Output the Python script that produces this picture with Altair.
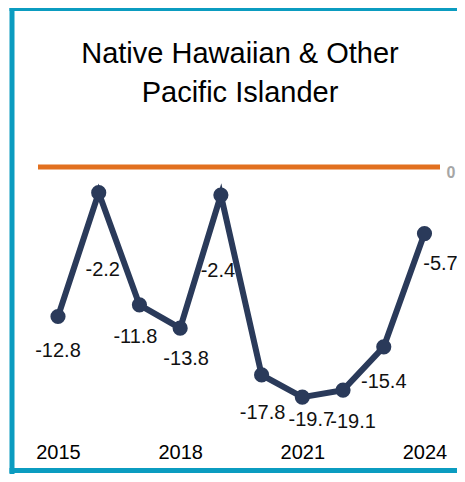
import altair as alt
import pandas as pd

# ---- data ----
years = [2015, 2016, 2017, 2018, 2019, 2020, 2021, 2022, 2023, 2024]
values = [-12.8, -2.2, -11.8, -13.8, -2.4, -17.8, -19.7, -19.1, -15.4, -5.7]
labels = ["-12.8", "-2.2", "-11.8", "-13.8", "-2.4", "-17.8", "-19.7", "-19.1", "-15.4", "-5.7"]
tick_years = [2015, 2018, 2021, 2024]
title_lines = ["Native Hawaiian & Other", "Pacific Islander"]

df = pd.DataFrame({"year": years, "value": values, "label": labels})

FONT = "Liberation Sans"
NAVY = "#2A3A5A"
ORANGE = "#E2701F"
TEAL = "#0B9CC0"

x_scale = alt.Scale(domain=[2014.509, 2024.381], nice=False, zero=False)
y_scale = alt.Scale(domain=[-22.517, 3.168], nice=False, zero=False)

x_axis = alt.Axis(values=tick_years, format="d", title=None, domain=False,
                  ticks=False, grid=False, labelFontSize=20, labelColor="#000",
                  labelFont=FONT, labelPadding=12)
y_axis = alt.Axis(orient="right", values=[0], title=None, domain=False,
                  ticks=False, grid=False, labelFontSize=16, labelFontWeight="bold",
                  labelColor="#A6A6A6", labelFont=FONT, labelPadding=6, labelOffset=5)

X = alt.X("year:Q", scale=x_scale, axis=x_axis)
Y = alt.Y("value:Q", scale=y_scale, axis=y_axis)

base = alt.Chart(df)
one = alt.Data(values=[{}])

# frame (left, top, bottom edges; the right edge lies beyond the picture)
frame_left = alt.Chart(one).mark_rule(color=TEAL, strokeWidth=5).encode(
    x=alt.value(-26), y=alt.value(-124), y2=alt.value(344))
frame_top = alt.Chart(one).mark_rule(color=TEAL, strokeWidth=5).encode(
    x=alt.value(-28.5), x2=alt.value(420), y=alt.value(-121.5))
frame_bottom = alt.Chart(one).mark_rule(color=TEAL, strokeWidth=5).encode(
    x=alt.value(-28.5), x2=alt.value(420), y=alt.value(340.5))

title_layers = [
    alt.Chart(one).mark_text(font=FONT, fontSize=29, color="#000", align="center",
                             baseline="alphabetic").encode(
        x=alt.value(202), y=alt.value(yv), text=alt.value(t))
    for t, yv in zip(title_lines, [-67, -28])
]

zero_rule = alt.Chart(one).mark_rule(color=ORANGE, strokeWidth=5).encode(
    y=alt.datum(0, type="quantitative", scale=y_scale, axis=y_axis),
)

line = base.mark_line(color=NAVY, strokeWidth=6).encode(x=X, y=Y)
points = base.mark_circle(color=NAVY, size=230, opacity=1).encode(x=X, y=Y)

# per-label placement (style), as in the reference
label_offsets = {
    2015: (0, 34), 2016: (4, 77), 2017: (-4, 32), 2018: (6, 31), 2019: (-3, 76),
    2020: (1, 38), 2021: (9, 23), 2022: (10, 32), 2023: (0, 35), 2024: (16, 30),
}

text_layers = []
for yr, (dx, dy) in label_offsets.items():
    text_layers.append(
        base.transform_filter(alt.datum.year == yr).mark_text(
            font=FONT, fontSize=20, color="#111", dx=dx, dy=dy, baseline="middle", align="center"
        ).encode(x=X, y=Y, text="label:N")
    )

chart = alt.layer(
    frame_left, frame_top, frame_bottom, *title_layers, zero_rule, line, points, *text_layers
).properties(
    width=402,
    height=300,
    autosize=alt.AutoSizeParams(type="none"),
    padding={"left": 30, "top": 122, "right": 17, "bottom": 44},
    background="white",
).configure_view(strokeWidth=0)

chart.save("out.html", embed_options={"renderer": "svg", "actions": False})
